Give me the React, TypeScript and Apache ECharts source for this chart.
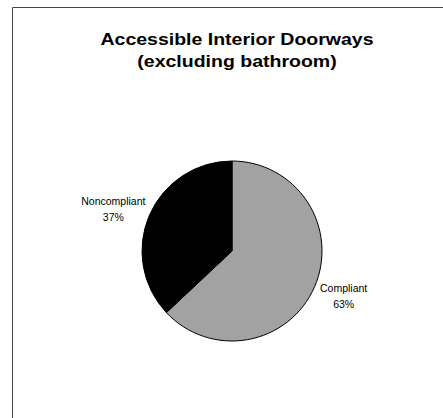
import React, { useEffect, useRef } from "react";
import * as echarts from "echarts";

const titleLines = ["Accessible Interior Doorways", "(excluding bathroom)"];
const categories = ["Compliant", "Noncompliant"];
const shares = [63, 37];
const sliceColors = ["#a2a2a2", "#000000"];

const FONT = "Liberation Sans, Arial, sans-serif";

export default function App() {
  const ref = useRef<HTMLDivElement>(null);
  useEffect(() => {
    document.body.style.margin = "0";
    const chart = echarts.init(ref.current!, null, { renderer: "svg" });
    const data = categories.map((name, i) => ({
      name,
      value: shares[i],
      itemStyle: { color: sliceColors[i] },
    }));
    const titleTexts = titleLines.map((t, i) => ({
      type: "text",
      x: 237,
      y: 40 + i * 22,
      scaleX: 1.22,
      silent: true,
      style: {
        text: t,
        x: 0,
        y: 0,
        align: "center",
        verticalAlign: "middle",
        font: `bold 16px ${FONT}`,
        fill: "#000",
      },
    }));
    chart.setOption({
      animation: false,
      backgroundColor: "#ffffff",
      graphic: [
        {
          type: "polyline",
          shape: { points: [[12.5, 418], [12.5, 7.5], [443, 7.5]] },
          style: { stroke: "#444", lineWidth: 1, fill: "none" },
          silent: true,
        },
        ...titleTexts,
      ],
      series: [
        {
          type: "pie",
          center: [232, 251],
          radius: [0, 90],
          startAngle: 90,
          clockwise: true,
          data,
          label: { show: false },
          labelLine: { show: false },
          itemStyle: { borderColor: "#000", borderWidth: 1 },
          silent: true,
        },
        {
          type: "pie",
          center: [232, 251],
          radius: [100, 146],
          startAngle: 90,
          clockwise: true,
          silent: true,
          data: categories.map((name, i) => ({ name, value: shares[i] })),
          itemStyle: { color: "rgba(0,0,0,0)" },
          label: {
            show: true,
            position: "inside",
            formatter: "{b}\n{d}%",
            fontFamily: FONT,
            fontSize: 10.5,
            lineHeight: 16,
            color: "#000",
          },
          labelLine: { show: false },
          labelLayout: (params: any) =>
            params.dataIndex === 1 ? { dx: -3, dy: 8 } : { dx: -4, dy: -5 },
        },
      ],
    });
    return () => chart.dispose();
  }, []);
  return <div ref={ref} style={{ width: 443, height: 418 }} />;
}
